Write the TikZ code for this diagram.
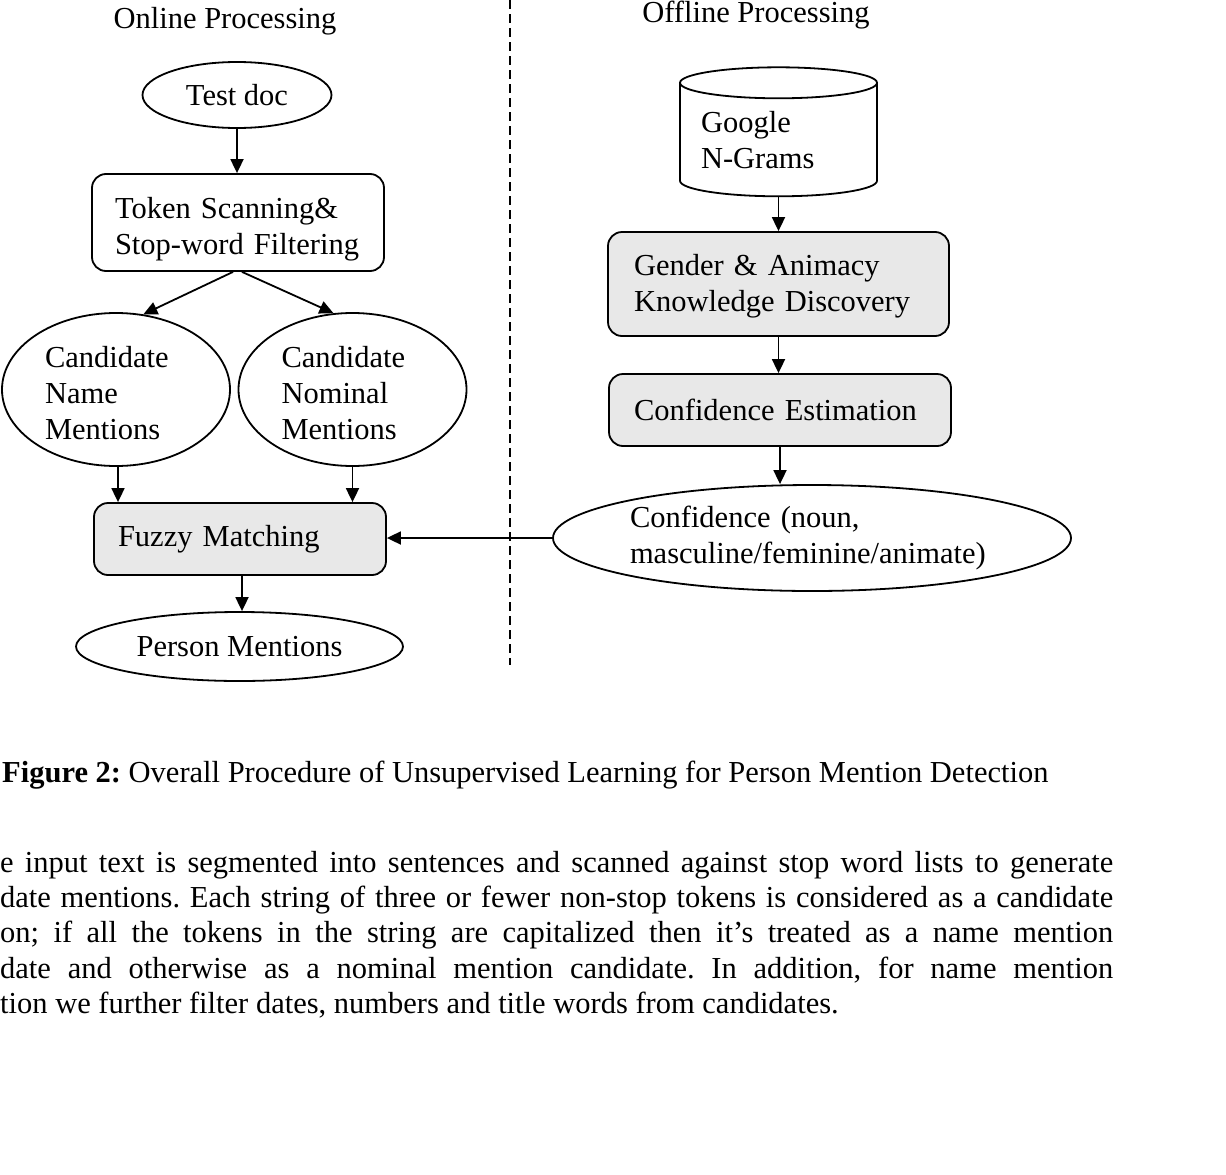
\documentclass[tikz,border=0pt]{standalone}
\usepackage{fontspec}
\setmainfont{Liberation Serif}
\usetikzlibrary{shapes.geometric,arrows.meta}
\definecolor{boxgrey}{HTML}{E8E8E8}
\frenchspacing
\hyphenpenalty=10000
\exhyphenpenalty=10000

\begin{document}
\begin{tikzpicture}[x=1pt,y=-1pt,
        every node/.style={font=\fontsize{30.5}{36}\selectfont,inner sep=0pt},
        oval/.style={ellipse,draw,line width=1.8pt},
        procbox/.style={rectangle,rounded corners=14pt,draw,line width=1.8pt,align=left},
        greybox/.style={procbox,fill=boxgrey},
        flow/.style={line width=1.8pt,-{Triangle[length=14pt,width=13pt]}}]
        \path[use as bounding box,fill=white] (0,0) rectangle (1226,1175);
        % online side
        \node[anchor=base] (online) at (225,28) {Online Processing};
        \node[oval,minimum width=189pt,minimum height=66pt] (testdoc) at (237,95) {Test doc};
        \node[procbox,text width=246pt,minimum width=292pt,minimum height=97pt] (token) at (238,222.5) {\rule{0pt}{34pt}Token Scanning\&\\Stop-word Filtering};
        \node[oval,text width=142pt,align=left,minimum width=228pt,minimum height=153pt] (candname) at (116,389.5) {\rule{0pt}{28pt}Candidate\\Name\\Mentions};
        \node[oval,text width=142pt,align=left,minimum width=228pt,minimum height=153pt] (candnom) at (352.5,389.5) {\rule{0pt}{28pt}Candidate\\Nominal\\Mentions};
        \node[greybox,text width=244pt,minimum width=292pt,minimum height=72pt] (fuzzy) at (240,539) {Fuzzy Matching};
        \node[oval,minimum width=327pt,minimum height=69pt] (person) at (239.5,646.5) {Person Mentions};
        % offline side
        \node[anchor=base] (offline) at (756,23) {Offline Processing};
        \node[cylinder,shape border rotate=90,aspect=0.2,draw,line width=1.8pt,text width=155pt,align=left,minimum width=197pt,minimum height=129pt] (ngrams) at (778.5,140) {Google\\N-Grams};
        \node[greybox,text width=289pt,minimum width=341pt,minimum height=104pt] (gender) at (778.5,284) {\rule{0pt}{26pt}Gender \& Animacy\\Knowledge Discovery};
        \node[greybox,text width=292pt,minimum width=342pt,minimum height=72pt] (confest) at (780,410) {Confidence Estimation};
        \node[oval,text width=364pt,align=left,minimum width=518pt,minimum height=106pt] (confid) at (812,538) {Confidence (noun,\\masculine/feminine/animate)};
        % separator
        \coordinate (septop) at (510,0);
        \coordinate (sepbottom) at (510,665);
        \draw[line width=1.8pt,dash pattern=on 9pt off 5pt] (septop) -- (sepbottom);
        % arrows
        \draw[flow] (testdoc) -- (testdoc |- token.north);
        \draw[flow] ([xshift=-5pt]token.south) -- (candname.70);
        \draw[flow] ([xshift=4pt]token.south) -- (candnom.104);
        \draw[flow] ([xshift=2pt]candname.south) -- ([xshift=2pt]candname.south |- fuzzy.north);
        \draw[flow] (candnom.south) -- (candnom.south |- fuzzy.north);
        \draw[flow] ([xshift=2pt]fuzzy.south) -- ([xshift=2pt]fuzzy.south |- person.north);
        \draw[flow] (ngrams) -- (gender);
        \draw[flow] (gender.south) -- (gender.south |- confest.north);
        \draw[flow] (confest.south) -- (confest.south |- confid.north);
        \draw[flow] (confid.west) -- (confid.west -| fuzzy.east);
        % caption and text
        \node[anchor=base west] (caption) at (2,782) {\textbf{Figure 2:} Overall Procedure of Unsupervised Learning for Person Mention Detection};
        \node[anchor=base west] (line1) at (0,872) {\makebox[1113pt][s]{e input text is segmented into sentences and scanned against stop word lists to generate}};
        \node[anchor=base west] (line2) at (0,907) {\makebox[1113pt][s]{date mentions. Each string of three or fewer non-stop tokens is considered as a candidate}};
        \node[anchor=base west] (line3) at (0,942) {\makebox[1113pt][s]{on; if all the tokens in the string are capitalized then it’s treated as a name mention}};
        \node[anchor=base west] (line4) at (0,978) {\makebox[1113pt][s]{date and otherwise as a nominal mention candidate. In addition, for name mention}};
        \node[anchor=base west] (line5) at (0,1013) {tion we further filter dates, numbers and title words from candidates.};
    \end{tikzpicture}
\end{document}
